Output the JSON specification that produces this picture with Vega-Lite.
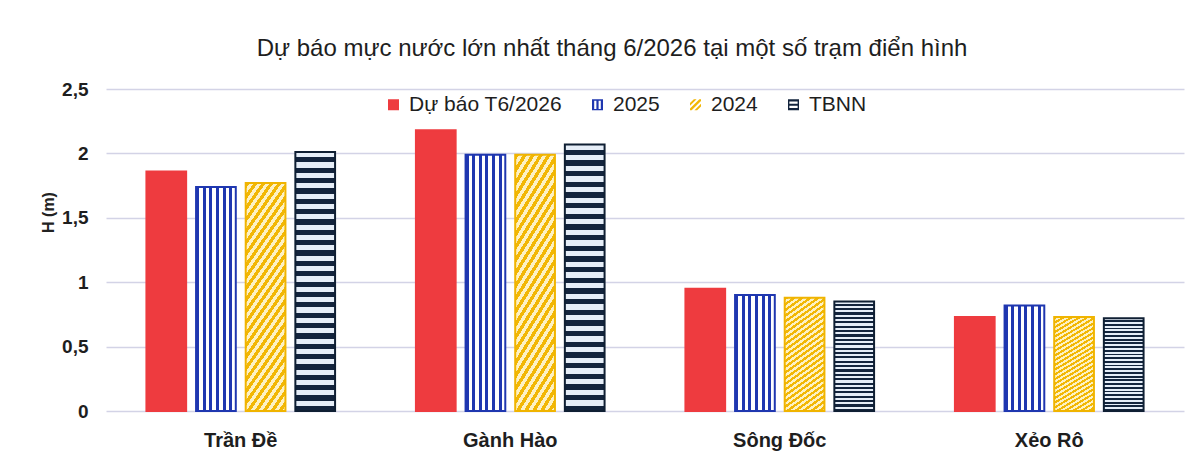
{
  "$schema": "https://vega.github.io/schema/vega-lite/v6.json",
  "width": 1078,
  "height": 322,
  "autosize": {"type": "none"},
  "padding": {"left": 106, "top": 89, "right": 19, "bottom": 46},
  "background": "#ffffff",
  "config": {"view": {"stroke": null}},
  "title": {
    "text": "Dự báo mực nước lớn nhất tháng 6/2026 tại một số trạm điển hình",
    "fontSize": 24,
    "font": "Liberation Sans",
    "fontWeight": "normal",
    "color": "#1e1e1e",
    "anchor": "middle",
    "dx": -33,
    "offset": 19
  },
  "data": {
    "values": [
      {"station": "Trần Đề", "series": "Dự báo T6/2026", "value": 1.86},
      {"station": "Trần Đề", "series": "2025", "value": 1.74},
      {"station": "Trần Đề", "series": "2024", "value": 1.77},
      {"station": "Trần Đề", "series": "TBNN", "value": 2.01},
      {"station": "Gành Hào", "series": "Dự báo T6/2026", "value": 2.18},
      {"station": "Gành Hào", "series": "2025", "value": 1.99},
      {"station": "Gành Hào", "series": "2024", "value": 1.99},
      {"station": "Gành Hào", "series": "TBNN", "value": 2.07},
      {"station": "Sông Đốc", "series": "Dự báo T6/2026", "value": 0.95},
      {"station": "Sông Đốc", "series": "2025", "value": 0.9},
      {"station": "Sông Đốc", "series": "2024", "value": 0.88},
      {"station": "Sông Đốc", "series": "TBNN", "value": 0.85},
      {"station": "Xẻo Rô", "series": "Dự báo T6/2026", "value": 0.73},
      {"station": "Xẻo Rô", "series": "2025", "value": 0.82},
      {"station": "Xẻo Rô", "series": "2024", "value": 0.73},
      {"station": "Xẻo Rô", "series": "TBNN", "value": 0.72}
    ]
  },
  "encoding": {
    "x": {
      "field": "station",
      "type": "nominal",
      "sort": ["Trần Đề", "Gành Hào", "Sông Đốc", "Xẻo Rô"],
      "scale": {"paddingInner": 0.3, "paddingOuter": 0.15},
      "axis": {
        "title": null,
        "labelFontSize": 20,
        "labelFontWeight": "bold",
        "labelFont": "Liberation Sans",
        "labelColor": "#1e1e1e",
        "labelPadding": 19,
        "ticks": false,
        "domain": false,
        "labelAngle": 0
      }
    },
    "xOffset": {
      "field": "series",
      "type": "nominal",
      "sort": ["Dự báo T6/2026", "2025", "2024", "TBNN"],
      "scale": {"paddingInner": 0.2, "paddingOuter": 0}
    },
    "y": {
      "field": "value",
      "type": "quantitative",
      "scale": {"domain": [0, 2.5]},
      "axis": {
        "title": "H (m)",
        "titleFontSize": 16,
        "titleFont": "Liberation Sans",
        "titleFontWeight": "bold",
        "titleColor": "#222222",
        "titleX": -58,
        "titleY": 123,
        "titleAngle": -90,
        "titleAlign": "center",
        "titleBaseline": "middle",
        "values": [0, 0.5, 1, 1.5, 2, 2.5],
        "labelExpr": "replace(format(datum.value, '~g'), '.', ',')",
        "labelFontSize": 19,
        "labelFont": "Liberation Sans",
        "labelFontWeight": "bold",
        "labelColor": "#1e1e1e",
        "labelPadding": 18,
        "ticks": false,
        "domain": false,
        "gridColor": "#d3d3e6",
        "gridWidth": 1.5
      }
    }
  },
  "layer": [
    {
      "mark": {"type": "bar", "strokeWidth": 2},
      "encoding": {
        "fill": {
          "condition": [
            {"test": "datum.series === '2025'", "value": {"gradient": "linear", "x1": 0, "y1": 0, "x2": 1, "y2": 0, "stops": [
                {"offset": 0, "color": "#1f37b0"}, {"offset": 0.075, "color": "#1f37b0"}, {"offset": 0.075, "color": "#ffffff"}, {"offset": 0.1667, "color": "#ffffff"},
                {"offset": 0.1667, "color": "#1f37b0"}, {"offset": 0.2417, "color": "#1f37b0"}, {"offset": 0.2417, "color": "#ffffff"}, {"offset": 0.3333, "color": "#ffffff"},
                {"offset": 0.3333, "color": "#1f37b0"}, {"offset": 0.4083, "color": "#1f37b0"}, {"offset": 0.4083, "color": "#ffffff"}, {"offset": 0.5, "color": "#ffffff"},
                {"offset": 0.5, "color": "#1f37b0"}, {"offset": 0.575, "color": "#1f37b0"}, {"offset": 0.575, "color": "#ffffff"}, {"offset": 0.6667, "color": "#ffffff"},
                {"offset": 0.6667, "color": "#1f37b0"}, {"offset": 0.7417, "color": "#1f37b0"}, {"offset": 0.7417, "color": "#ffffff"}, {"offset": 0.8333, "color": "#ffffff"},
                {"offset": 0.8333, "color": "#1f37b0"}, {"offset": 0.9083, "color": "#1f37b0"}, {"offset": 0.9083, "color": "#ffffff"}, {"offset": 1, "color": "#ffffff"}
              ]}},
            {"test": "datum.series === '2024'", "value": {"gradient": "linear", "x1": 0, "y1": 0, "x2": 0.295, "y2": 1.18, "stops": [
                {"offset": 0, "color": "#f2b705"}, {"offset": 0.02, "color": "#f2b705"}, {"offset": 0.02, "color": "#fdf1c4"}, {"offset": 0.04, "color": "#fdf1c4"},
                {"offset": 0.04, "color": "#f2b705"}, {"offset": 0.06, "color": "#f2b705"}, {"offset": 0.06, "color": "#fdf1c4"}, {"offset": 0.08, "color": "#fdf1c4"},
                {"offset": 0.08, "color": "#f2b705"}, {"offset": 0.1, "color": "#f2b705"}, {"offset": 0.1, "color": "#fdf1c4"}, {"offset": 0.12, "color": "#fdf1c4"},
                {"offset": 0.12, "color": "#f2b705"}, {"offset": 0.14, "color": "#f2b705"}, {"offset": 0.14, "color": "#fdf1c4"}, {"offset": 0.16, "color": "#fdf1c4"},
                {"offset": 0.16, "color": "#f2b705"}, {"offset": 0.18, "color": "#f2b705"}, {"offset": 0.18, "color": "#fdf1c4"}, {"offset": 0.2, "color": "#fdf1c4"},
                {"offset": 0.2, "color": "#f2b705"}, {"offset": 0.22, "color": "#f2b705"}, {"offset": 0.22, "color": "#fdf1c4"}, {"offset": 0.24, "color": "#fdf1c4"},
                {"offset": 0.24, "color": "#f2b705"}, {"offset": 0.26, "color": "#f2b705"}, {"offset": 0.26, "color": "#fdf1c4"}, {"offset": 0.28, "color": "#fdf1c4"},
                {"offset": 0.28, "color": "#f2b705"}, {"offset": 0.3, "color": "#f2b705"}, {"offset": 0.3, "color": "#fdf1c4"}, {"offset": 0.32, "color": "#fdf1c4"},
                {"offset": 0.32, "color": "#f2b705"}, {"offset": 0.34, "color": "#f2b705"}, {"offset": 0.34, "color": "#fdf1c4"}, {"offset": 0.36, "color": "#fdf1c4"},
                {"offset": 0.36, "color": "#f2b705"}, {"offset": 0.38, "color": "#f2b705"}, {"offset": 0.38, "color": "#fdf1c4"}, {"offset": 0.4, "color": "#fdf1c4"},
                {"offset": 0.4, "color": "#f2b705"}, {"offset": 0.42, "color": "#f2b705"}, {"offset": 0.42, "color": "#fdf1c4"}, {"offset": 0.44, "color": "#fdf1c4"},
                {"offset": 0.44, "color": "#f2b705"}, {"offset": 0.46, "color": "#f2b705"}, {"offset": 0.46, "color": "#fdf1c4"}, {"offset": 0.48, "color": "#fdf1c4"},
                {"offset": 0.48, "color": "#f2b705"}, {"offset": 0.5, "color": "#f2b705"}, {"offset": 0.5, "color": "#fdf1c4"}, {"offset": 0.52, "color": "#fdf1c4"},
                {"offset": 0.52, "color": "#f2b705"}, {"offset": 0.54, "color": "#f2b705"}, {"offset": 0.54, "color": "#fdf1c4"}, {"offset": 0.56, "color": "#fdf1c4"},
                {"offset": 0.56, "color": "#f2b705"}, {"offset": 0.58, "color": "#f2b705"}, {"offset": 0.58, "color": "#fdf1c4"}, {"offset": 0.6, "color": "#fdf1c4"},
                {"offset": 0.6, "color": "#f2b705"}, {"offset": 0.62, "color": "#f2b705"}, {"offset": 0.62, "color": "#fdf1c4"}, {"offset": 0.64, "color": "#fdf1c4"},
                {"offset": 0.64, "color": "#f2b705"}, {"offset": 0.66, "color": "#f2b705"}, {"offset": 0.66, "color": "#fdf1c4"}, {"offset": 0.68, "color": "#fdf1c4"},
                {"offset": 0.68, "color": "#f2b705"}, {"offset": 0.7, "color": "#f2b705"}, {"offset": 0.7, "color": "#fdf1c4"}, {"offset": 0.72, "color": "#fdf1c4"},
                {"offset": 0.72, "color": "#f2b705"}, {"offset": 0.74, "color": "#f2b705"}, {"offset": 0.74, "color": "#fdf1c4"}, {"offset": 0.76, "color": "#fdf1c4"},
                {"offset": 0.76, "color": "#f2b705"}, {"offset": 0.78, "color": "#f2b705"}, {"offset": 0.78, "color": "#fdf1c4"}, {"offset": 0.8, "color": "#fdf1c4"},
                {"offset": 0.8, "color": "#f2b705"}, {"offset": 0.82, "color": "#f2b705"}, {"offset": 0.82, "color": "#fdf1c4"}, {"offset": 0.84, "color": "#fdf1c4"},
                {"offset": 0.84, "color": "#f2b705"}, {"offset": 0.86, "color": "#f2b705"}, {"offset": 0.86, "color": "#fdf1c4"}, {"offset": 0.88, "color": "#fdf1c4"},
                {"offset": 0.88, "color": "#f2b705"}, {"offset": 0.9, "color": "#f2b705"}, {"offset": 0.9, "color": "#fdf1c4"}, {"offset": 0.92, "color": "#fdf1c4"},
                {"offset": 0.92, "color": "#f2b705"}, {"offset": 0.94, "color": "#f2b705"}, {"offset": 0.94, "color": "#fdf1c4"}, {"offset": 0.96, "color": "#fdf1c4"},
                {"offset": 0.96, "color": "#f2b705"}, {"offset": 0.98, "color": "#f2b705"}, {"offset": 0.98, "color": "#fdf1c4"}, {"offset": 1, "color": "#fdf1c4"}
              ]}},
            {"test": "datum.series === 'TBNN'", "value": {"gradient": "linear", "x1": 0, "y1": 0, "x2": 0, "y2": 1, "stops": [
                {"offset": 0, "color": "#e6eef8"}, {"offset": 0.02, "color": "#e6eef8"}, {"offset": 0.02, "color": "#13243d"}, {"offset": 0.04, "color": "#13243d"},
                {"offset": 0.04, "color": "#e6eef8"}, {"offset": 0.06, "color": "#e6eef8"}, {"offset": 0.06, "color": "#13243d"}, {"offset": 0.08, "color": "#13243d"},
                {"offset": 0.08, "color": "#e6eef8"}, {"offset": 0.1, "color": "#e6eef8"}, {"offset": 0.1, "color": "#13243d"}, {"offset": 0.12, "color": "#13243d"},
                {"offset": 0.12, "color": "#e6eef8"}, {"offset": 0.14, "color": "#e6eef8"}, {"offset": 0.14, "color": "#13243d"}, {"offset": 0.16, "color": "#13243d"},
                {"offset": 0.16, "color": "#e6eef8"}, {"offset": 0.18, "color": "#e6eef8"}, {"offset": 0.18, "color": "#13243d"}, {"offset": 0.2, "color": "#13243d"},
                {"offset": 0.2, "color": "#e6eef8"}, {"offset": 0.22, "color": "#e6eef8"}, {"offset": 0.22, "color": "#13243d"}, {"offset": 0.24, "color": "#13243d"},
                {"offset": 0.24, "color": "#e6eef8"}, {"offset": 0.26, "color": "#e6eef8"}, {"offset": 0.26, "color": "#13243d"}, {"offset": 0.28, "color": "#13243d"},
                {"offset": 0.28, "color": "#e6eef8"}, {"offset": 0.3, "color": "#e6eef8"}, {"offset": 0.3, "color": "#13243d"}, {"offset": 0.32, "color": "#13243d"},
                {"offset": 0.32, "color": "#e6eef8"}, {"offset": 0.34, "color": "#e6eef8"}, {"offset": 0.34, "color": "#13243d"}, {"offset": 0.36, "color": "#13243d"},
                {"offset": 0.36, "color": "#e6eef8"}, {"offset": 0.38, "color": "#e6eef8"}, {"offset": 0.38, "color": "#13243d"}, {"offset": 0.4, "color": "#13243d"},
                {"offset": 0.4, "color": "#e6eef8"}, {"offset": 0.42, "color": "#e6eef8"}, {"offset": 0.42, "color": "#13243d"}, {"offset": 0.44, "color": "#13243d"},
                {"offset": 0.44, "color": "#e6eef8"}, {"offset": 0.46, "color": "#e6eef8"}, {"offset": 0.46, "color": "#13243d"}, {"offset": 0.48, "color": "#13243d"},
                {"offset": 0.48, "color": "#e6eef8"}, {"offset": 0.5, "color": "#e6eef8"}, {"offset": 0.5, "color": "#13243d"}, {"offset": 0.52, "color": "#13243d"},
                {"offset": 0.52, "color": "#e6eef8"}, {"offset": 0.54, "color": "#e6eef8"}, {"offset": 0.54, "color": "#13243d"}, {"offset": 0.56, "color": "#13243d"},
                {"offset": 0.56, "color": "#e6eef8"}, {"offset": 0.58, "color": "#e6eef8"}, {"offset": 0.58, "color": "#13243d"}, {"offset": 0.6, "color": "#13243d"},
                {"offset": 0.6, "color": "#e6eef8"}, {"offset": 0.62, "color": "#e6eef8"}, {"offset": 0.62, "color": "#13243d"}, {"offset": 0.64, "color": "#13243d"},
                {"offset": 0.64, "color": "#e6eef8"}, {"offset": 0.66, "color": "#e6eef8"}, {"offset": 0.66, "color": "#13243d"}, {"offset": 0.68, "color": "#13243d"},
                {"offset": 0.68, "color": "#e6eef8"}, {"offset": 0.7, "color": "#e6eef8"}, {"offset": 0.7, "color": "#13243d"}, {"offset": 0.72, "color": "#13243d"},
                {"offset": 0.72, "color": "#e6eef8"}, {"offset": 0.74, "color": "#e6eef8"}, {"offset": 0.74, "color": "#13243d"}, {"offset": 0.76, "color": "#13243d"},
                {"offset": 0.76, "color": "#e6eef8"}, {"offset": 0.78, "color": "#e6eef8"}, {"offset": 0.78, "color": "#13243d"}, {"offset": 0.8, "color": "#13243d"},
                {"offset": 0.8, "color": "#e6eef8"}, {"offset": 0.82, "color": "#e6eef8"}, {"offset": 0.82, "color": "#13243d"}, {"offset": 0.84, "color": "#13243d"},
                {"offset": 0.84, "color": "#e6eef8"}, {"offset": 0.86, "color": "#e6eef8"}, {"offset": 0.86, "color": "#13243d"}, {"offset": 0.88, "color": "#13243d"},
                {"offset": 0.88, "color": "#e6eef8"}, {"offset": 0.9, "color": "#e6eef8"}, {"offset": 0.9, "color": "#13243d"}, {"offset": 0.92, "color": "#13243d"},
                {"offset": 0.92, "color": "#e6eef8"}, {"offset": 0.94, "color": "#e6eef8"}, {"offset": 0.94, "color": "#13243d"}, {"offset": 0.96, "color": "#13243d"},
                {"offset": 0.96, "color": "#e6eef8"}, {"offset": 0.98, "color": "#e6eef8"}, {"offset": 0.98, "color": "#13243d"}, {"offset": 1, "color": "#13243d"}
              ]}}
          ],
          "value": "#ee3b3f"
        },
        "stroke": {
          "condition": [
            {"test": "datum.series === '2025'", "value": "#1f37b0"},
            {"test": "datum.series === '2024'", "value": "#f0b400"},
            {"test": "datum.series === 'TBNN'", "value": "#0f1f33"}
          ],
          "value": "#ee3b3f"
        }
      }
    },
    {
      "mark": {"type": "point", "filled": true, "opacity": 1, "clip": true, "yOffset": -2000},
      "encoding": {
        "fill": {
          "field": "series",
          "type": "nominal",
          "scale": {
            "domain": ["Dự báo T6/2026", "2025", "2024", "TBNN"],
            "range": ["#ee3b3f", "#1f37b0", "#f2b705", "#13243d"]
          },
          "legend": {
            "title": null,
            "orient": "none",
            "legendX": 277,
            "legendY": 5,
            "direction": "horizontal",
            "symbolSize": 121,
            "symbolStrokeWidth": 0,
            "symbolOpacity": 1,
            "labelFontSize": 21,
            "labelFont": "Liberation Sans",
            "labelColor": "#1e1e1e",
            "labelOffset": 5,
            "columnPadding": 25,
            "padding": 0
          }
        },
        "shape": {
          "field": "series",
          "type": "nominal",
          "scale": {
            "domain": ["Dự báo T6/2026", "2025", "2024", "TBNN"],
            "range": [
              "square",
              "M-1,-1H-0.6V1H-1Z M-0.2,-1H0.2V1H-0.2Z M0.6,-1H1V1H0.6Z M-1,-1H1V-0.75H-1Z M-1,0.75H1V1H-1Z",
              "M-1,-0.3L-0.3,-1L0.2,-1L-1,0.2Z M-1,0.7L0.7,-1L1,-1L1,-0.7L-0.7,1L-1,1Z M-0.2,1L1,-0.2L1,0.3L0.3,1Z",
              "M-1,-1H1V-0.6H-1Z M-1,-0.2H1V0.2H-1Z M-1,0.6H1V1H-1Z M-1,-1H-0.75V1H-1Z M0.75,-1H1V1H0.75Z"
            ]
          },
          "legend": {
            "title": null,
            "orient": "none",
            "legendX": 277,
            "legendY": 5,
            "direction": "horizontal",
            "symbolSize": 121,
            "symbolStrokeWidth": 0,
            "symbolOpacity": 1,
            "labelFontSize": 21,
            "labelFont": "Liberation Sans",
            "labelColor": "#1e1e1e",
            "labelOffset": 5,
            "columnPadding": 25,
            "padding": 0
          }
        }
      }
    }
  ]
}
